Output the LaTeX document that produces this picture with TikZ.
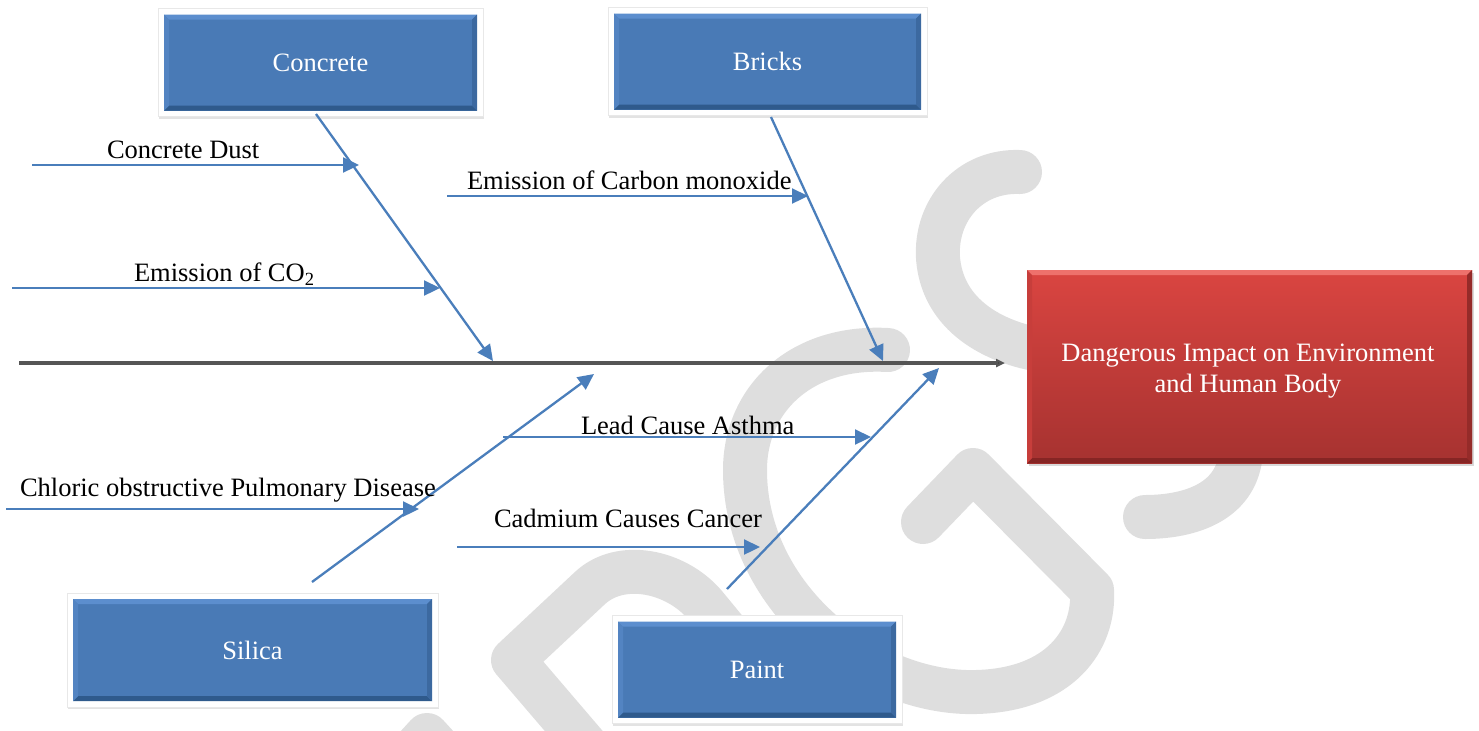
\documentclass[tikz,border=0pt]{standalone}
\usepackage{fontspec}
\setmainfont{Liberation Serif}
\usetikzlibrary{arrows.meta,shadows}
\definecolor{bone}{HTML}{4A7EBB}
\definecolor{boxblue}{HTML}{497AB6}
\definecolor{boxT}{HTML}{5C8ECE}
\definecolor{boxB}{HTML}{2F5A8C}
\definecolor{boxL}{HTML}{5384C2}
\definecolor{boxR}{HTML}{3C69A0}
\definecolor{redTop}{HTML}{DA4541}
\definecolor{redBot}{HTML}{A63230}
\definecolor{redT}{HTML}{EE716C}
\definecolor{redB}{HTML}{862524}
\definecolor{redL}{HTML}{C73E3B}
\definecolor{redR}{HTML}{952B29}
\definecolor{wm}{HTML}{DEDEDE}
\definecolor{spinec}{HTML}{555555}
\newcommand\bevelfill[6]{%
  \coordinate (bA) at ([shift={(#1,#1)}]path picture bounding box.south west);
  \coordinate (bB) at ([shift={(-#1,-#1)}]path picture bounding box.north east);
  \coordinate (bTL) at (bA|-bB);
  \coordinate (bBR) at (bB|-bA);
  \path[#2] (bA) rectangle (bB);
  \fill[#3] (bTL) -- (bB) -- ([shift={(-2.5pt,-2.5pt)}]bB) -- ([shift={(2.5pt,-2.5pt)}]bTL) -- cycle;
  \fill[#4] (bA) -- (bBR) -- ([shift={(-2.5pt,2.5pt)}]bBR) -- ([shift={(2.5pt,2.5pt)}]bA) -- cycle;
  \fill[#5] (bA) -- (bTL) -- ([shift={(2.5pt,-2.5pt)}]bTL) -- ([shift={(2.5pt,2.5pt)}]bA) -- cycle;
  \fill[#6] (bBR) -- (bB) -- ([shift={(-2.5pt,-2.5pt)}]bB) -- ([shift={(-2.5pt,2.5pt)}]bBR) -- cycle;
}
\tikzset{
  bluebox/.style={fill=white, draw=black!9, line width=0.4pt, inner sep=0pt, outer sep=0pt, text=white,
    font=\fontsize{13.25}{15.5}\selectfont,
    drop shadow={shadow xshift=0.6pt, shadow yshift=-1.2pt, opacity=0.22},
    path picture={\bevelfill{3pt}{fill=boxblue}{boxT}{boxB}{boxL}{boxR}}},
  effectbox/.style={fill=redBot, inner sep=0pt, outer sep=0pt,
    drop shadow={shadow xshift=0.8pt, shadow yshift=-1.5pt, opacity=0.3},
    path picture={\bevelfill{0pt}{top color=redTop, bottom color=redBot}{redT}{redB}{redL}{redR}}},
  efftext/.style={inner sep=0pt, text=white, align=center, font=\fontsize{13.25}{15.5}\selectfont},
  lbl/.style={inner sep=0pt, outer sep=0pt, anchor=base west, font=\fontsize{13.25}{15.5}\selectfont},
  bonearrow/.style={draw=bone, line width=1.15pt, -{Triangle[length=8pt,width=7.5pt]}},
  subarrow/.style={draw=bone, line width=1.15pt, -{Triangle[length=8pt,width=7.5pt]}},
  wmark/.style={draw=wm, line width=22pt, line cap=round, line join=round},
}
\begin{document}
\begin{tikzpicture}[x=0.5pt,y=-0.5pt]
\useasboundingbox (0,0) rectangle (1479,730);
% watermark
\begin{scope}
\clip (0,0) rectangle (1479,730);
\draw[wmark] (1020,172) .. controls (970,170) and (935,210) .. (938,258)
  .. controls (942,310) and (985,340) .. (1040,350)
  .. controls (1180,375) and (1250,410) .. (1240,460)
  .. controls (1232,505) and (1185,517) .. (1145,517);
\draw[wmark] (888,350) .. controls (800,345) and (745,400) .. (745,470)
  .. controls (745,600) and (870,695) .. (976,692)
  .. controls (1060,690) and (1095,640) .. (1092,590) -- (973,470) -- (923,522);
\draw[wmark] (590,750) -- (513,660) -- (590,588)
  .. controls (620,560) and (675,570) .. (705,605) -- (775,690);
\draw[wmark] (395,770) -- (427,735) -- (459,770);
\end{scope}
% spine
\coordinate (spineL) at (19,363);
\coordinate (spineR) at (1005,363);
\draw[draw=spinec, line width=2pt, -{Triangle[length=4.5pt,width=4pt,fill=black]}] (spineL) -- (spineR);
% category boxes
\node[bluebox, minimum width=162.5pt, minimum height=54pt] (concrete) at (320.5,62.5) {Concrete};
\node[bluebox, minimum width=159.5pt, minimum height=54pt] (bricks) at (767.5,61.5) {Bricks};
\node[bluebox, minimum width=185.5pt, minimum height=57pt] (silica) at (252.5,650) {Silica};
\node[bluebox, minimum width=145pt, minimum height=54pt] (paint) at (757,669.5) {Paint};
\node[effectbox, minimum width=222.5pt, minimum height=96.5pt] (effect) at (1249.5,366.5) {};
\node[efftext] (effectText) at (1248,371) {Dangerous Impact on Environment\\and Human Body};
% bones
\coordinate (cS) at (316,114);  \coordinate (cE) at (493,361);
\coordinate (bS) at (771,117);  \coordinate (bE) at (883,361);
\coordinate (sS) at (312,582);  \coordinate (sE) at (594,374);
\coordinate (pS) at (727,589);  \coordinate (pE) at (939,368);
\draw[bonearrow] (cS) -- (cE);
\draw[bonearrow] (bS) -- (bE);
\draw[bonearrow] (sS) -- (sE);
\draw[bonearrow] (pS) -- (pE);
% sub causes
\coordinate (d1) at (32,165);  \coordinate (d2) at (359,165);
\coordinate (e1) at (12,288);  \coordinate (e2) at (440,288);
\coordinate (m1) at (447,196); \coordinate (m2) at (808,196);
\coordinate (k1) at (6,509);   \coordinate (k2) at (419,509);
\coordinate (l1) at (503,437); \coordinate (l2) at (871,437);
\coordinate (a1) at (457,547); \coordinate (a2) at (760,547);
\draw[subarrow] (d1) -- (d2);
\draw[subarrow] (e1) -- (e2);
\draw[subarrow] (m1) -- (m2);
\draw[subarrow] (k1) -- (k2);
\draw[subarrow] (l1) -- (l2);
\draw[subarrow] (a1) -- (a2);
\node[lbl] (tDust) at (107,158) {Concrete Dust};
\node[lbl] (tCO2) at (134,281) {Emission of CO\textsubscript{2}};
\node[lbl] (tCO) at (467,189) {Emission of Carbon monoxide};
\node[lbl] (tCOPD) at (20,496) {Chloric obstructive Pulmonary Disease};
\node[lbl] (tLead) at (581,434) {Lead Cause Asthma};
\node[lbl] (tCad) at (494,527) {Cadmium Causes Cancer};
\end{tikzpicture}
\end{document}
